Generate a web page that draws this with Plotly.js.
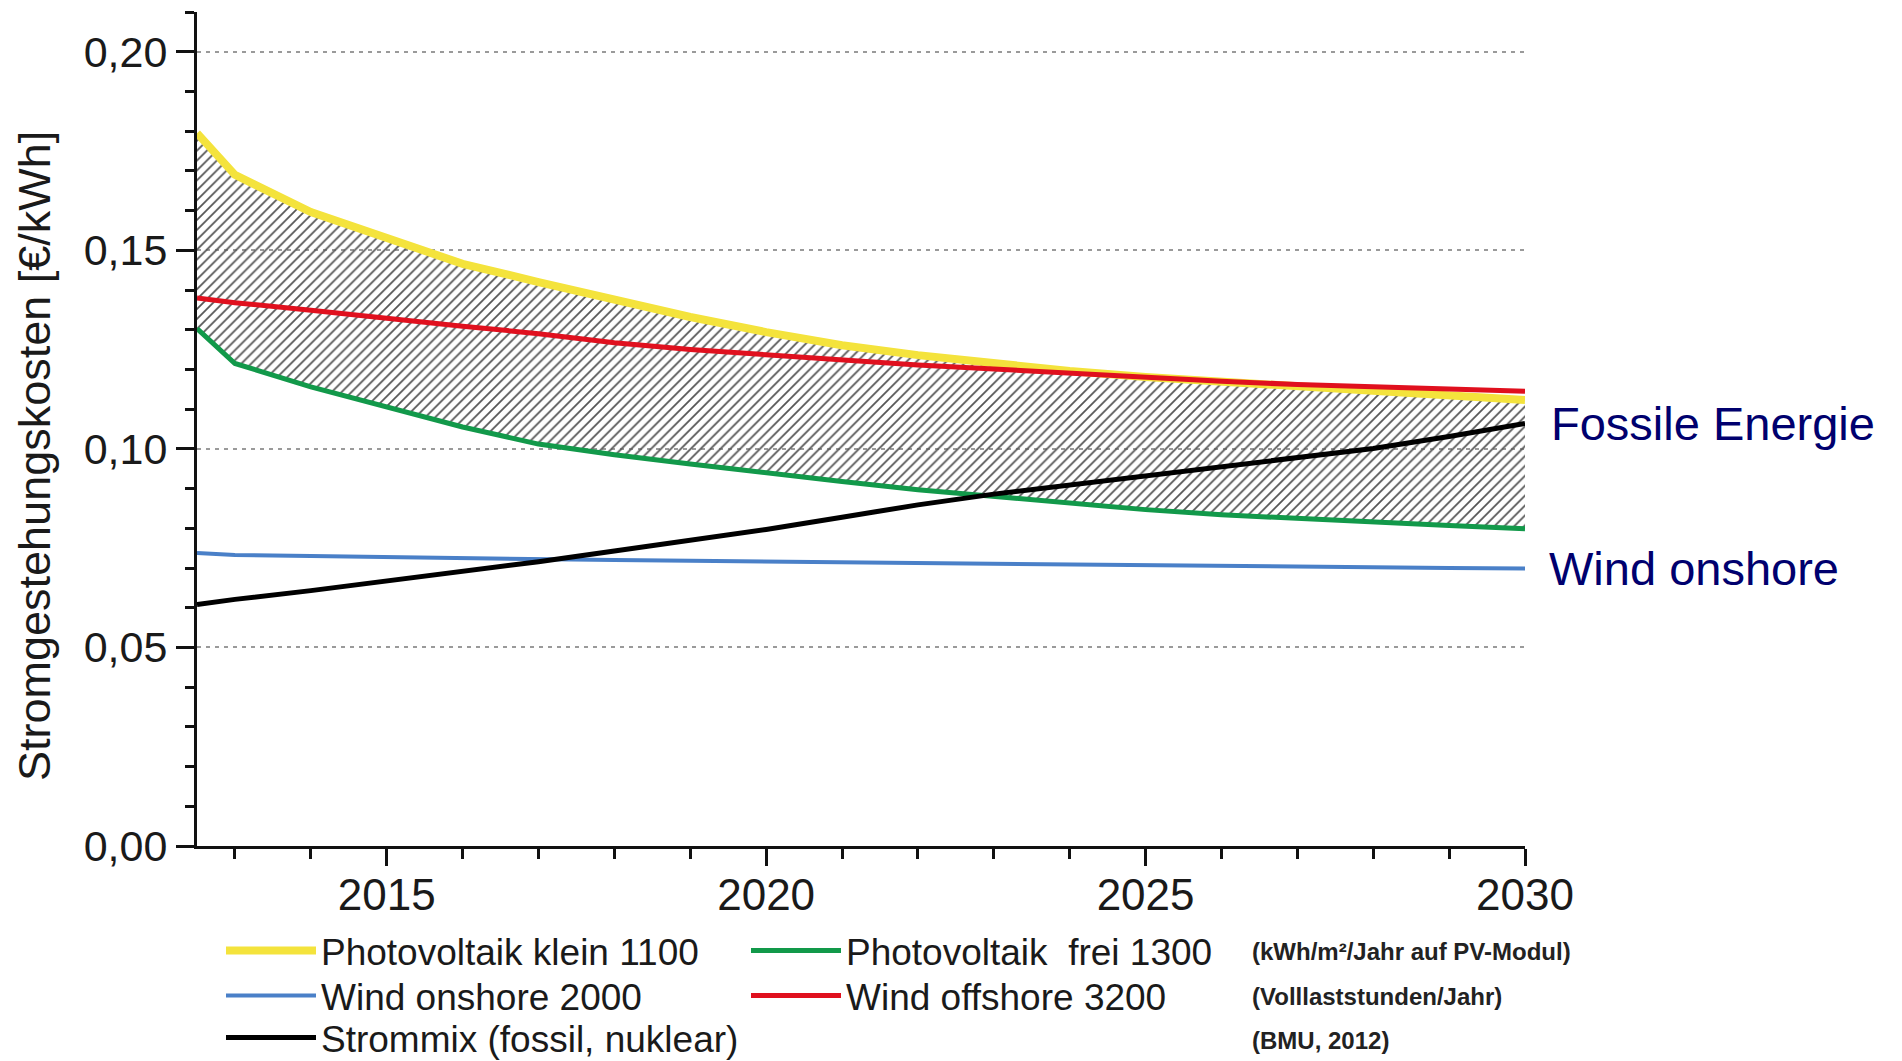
<!DOCTYPE html>
<html>
<head>
<meta charset="utf-8">
<script src="https://cdn.plot.ly/plotly-3.0.1.min.js"></script>
<style>html,body{margin:0;padding:0;background:#fff;}#chart{width:1902px;height:1061px;}</style>
</head>
<body>
<div id="chart"></div>
<script>
// Years (axis starts at mid-2012)
const years = [2012.5, 2013, 2014, 2015, 2016, 2017, 2018, 2019, 2020, 2021, 2022, 2023, 2024, 2025, 2026, 2027, 2028, 2029, 2030];
// Stromgestehungskosten in €/kWh
const pvKlein1100   = [0.1795, 0.1690, 0.1596, 0.1529, 0.1466, 0.1420, 0.1375, 0.1332, 0.1294, 0.1261, 0.1236, 0.1215, 0.1196, 0.1181, 0.1169, 0.1154, 0.1144, 0.1133, 0.1123];
const pvFrei1300    = [0.1303, 0.1215, 0.1156, 0.1105, 0.1055, 0.1012, 0.0985, 0.0962, 0.0939, 0.0918, 0.0897, 0.0880, 0.0864, 0.0847, 0.0834, 0.0824, 0.0816, 0.0807, 0.0799];
const windOn2000    = [0.0738, 0.0733, 0.0730, 0.0727, 0.0724, 0.0722, 0.0720, 0.0718, 0.0716, 0.0714, 0.0712, 0.0710, 0.0709, 0.0708, 0.0706, 0.0704, 0.0702, 0.0700, 0.0699];
const windOff3200   = [0.1380, 0.1368, 0.1349, 0.1328, 0.1309, 0.1290, 0.1267, 0.1250, 0.1236, 0.1223, 0.1211, 0.1201, 0.1190, 0.1179, 0.1170, 0.1162, 0.1156, 0.1150, 0.1145];
const strommix      = [0.0608, 0.0621, 0.0643, 0.0667, 0.0691, 0.0716, 0.0743, 0.0770, 0.0797, 0.0828, 0.0859, 0.0886, 0.0909, 0.0931, 0.0953, 0.0976, 0.1001, 0.1031, 0.1064];

const seriesNames = ["Photovoltaik klein 1100", "Photovoltaik  frei 1300", "Wind onshore 2000", "Wind offshore 3200", "Strommix (fossil, nuklear)"];
const noteTexts = ["(kWh/m²/Jahr auf PV-Modul)", "(Volllaststunden/Jahr)", "(BMU, 2012)"];
const xTickVals = [2015, 2020, 2025, 2030];
const yTitle = 'Stromgestehungskosten [€/kWh]';

const FONT = '"Liberation Sans", Arial, Helvetica, sans-serif';

const traces = [
  // hatched band between PV klein (top) and PV frei (bottom)
  {x: years, y: pvKlein1100, mode: 'lines', line: {width: 0, color: 'rgba(0,0,0,0)'}, showlegend: false, hoverinfo: 'skip'},
  {x: years, y: pvFrei1300, mode: 'lines', line: {width: 0, color: 'rgba(0,0,0,0)'}, fill: 'tonexty',
   fillcolor: 'rgba(0,0,0,0)',
   fillpattern: {shape: '/', fgcolor: '#555', bgcolor: 'rgba(255,255,255,0)', size: 7, solidity: 0.25},
   showlegend: false, hoverinfo: 'skip'},
  {x: years, y: windOn2000, name: seriesNames[2], mode: 'lines', line: {color: '#4a80c8', width: 4}, legend: 'legend3'},
  {x: years, y: pvFrei1300, name: seriesNames[1], mode: 'lines', line: {color: '#12994a', width: 5}, legend: 'legend2'},
  {x: years, y: strommix, name: seriesNames[4], mode: 'lines', line: {color: '#000000', width: 5}, legend: 'legend5'},
  {x: years, y: pvKlein1100, name: seriesNames[0], mode: 'lines', line: {color: '#f4e33c', width: 8}, legend: 'legend'},
  {x: years, y: windOff3200, name: seriesNames[3], mode: 'lines', line: {color: '#e0101e', width: 5}, legend: 'legend4'}
];

const L = 197, R = 1525, T = 12, B = 846;
const pw = R - L, ph = B - T;
const px = v => (v - L) / pw;
const py = v => (B - v) / ph;

function legendAt(xPix, yPix) {
  return {x: px(xPix), y: py(yPix), xanchor: 'left', yanchor: 'middle', bgcolor: 'rgba(0,0,0,0)',
          borderwidth: 0, font: {family: FONT, size: 37, color: '#1a1a1a'}, itemwidth: 90, tracegroupgap: 0};
}

const noteFont = {family: '"Liberation Sans Narrow", ' + FONT, size: 24, color: '#222'};

const layout = {
  width: 1902, height: 1061,
  margin: {l: L, r: 1902 - R, t: T, b: 1061 - B, pad: 0, autoexpand: false},
  paper_bgcolor: '#fff', plot_bgcolor: '#fff',
  separators: ',.',
  font: {family: FONT, color: '#1a1a1a'},
  showlegend: true,
  xaxis: {
    range: [2012.5, 2030], tickmode: 'array', tickvals: xTickVals, ticktext: xTickVals.map(String),
    ticks: 'outside', ticklen: 17, tickwidth: 3, tickcolor: '#111', automargin: false,
    showline: true, linewidth: 3, linecolor: '#111', showgrid: false, zeroline: false,
    tickfont: {family: FONT, size: 44, color: '#1a1a1a'}, ticklabelstandoff: -9,
    minor: {dtick: 1, tick0: 2013, ticks: 'outside', ticklen: 10, tickwidth: 3, tickcolor: '#111', showgrid: false}
  },
  yaxis: {
    range: [0, 0.21], tick0: 0, dtick: 0.05, tickformat: '.2f', automargin: false,
    ticks: 'outside', ticklen: 18, tickwidth: 3, tickcolor: '#111',
    showline: true, linewidth: 3, linecolor: '#111', zeroline: false,
    showgrid: true, gridcolor: '#9a9a9a', gridwidth: 2, griddash: '4px,5px',
    tickfont: {family: FONT, size: 43, color: '#1a1a1a'}, ticklabelstandoff: 0,
    minor: {dtick: 0.01, tick0: 0, ticks: 'outside', ticklen: 9, tickwidth: 3, tickcolor: '#111', showgrid: false}
  },
  legend:  legendAt(221, 951),
  legend2: legendAt(746, 951),
  legend3: legendAt(221, 996),
  legend4: legendAt(746, 996),
  legend5: legendAt(221, 1038),
  annotations: [
    {xref: 'paper', yref: 'paper', x: px(34), y: py(456), xanchor: 'center', yanchor: 'middle', textangle: -90,
     text: yTitle, showarrow: false, font: {family: FONT, size: 45, color: '#1a1a1a'}},
    {xref: 'x', yref: 'y', x: years[years.length - 1], y: strommix[strommix.length - 1], xanchor: 'left', yanchor: 'middle',
     xshift: 24, text: 'Fossile Energie', showarrow: false, font: {family: FONT, size: 47, color: '#00006e'}},
    {xref: 'x', yref: 'y', x: years[years.length - 1], y: windOn2000[windOn2000.length - 1], xanchor: 'left', yanchor: 'middle',
     xshift: 22, text: 'Wind onshore', showarrow: false, font: {family: FONT, size: 47, color: '#00006e'}},
    {xref: 'paper', yref: 'paper', x: px(1250), y: py(951), xanchor: 'left', yanchor: 'middle', text: '<b>' + noteTexts[0] + '</b>',
     showarrow: false, font: noteFont},
    {xref: 'paper', yref: 'paper', x: px(1250), y: py(996), xanchor: 'left', yanchor: 'middle', text: '<b>' + noteTexts[1] + '</b>',
     showarrow: false, font: noteFont},
    {xref: 'paper', yref: 'paper', x: px(1250), y: py(1040), xanchor: 'left', yanchor: 'middle', text: '<b>' + noteTexts[2] + '</b>',
     showarrow: false, font: noteFont}
  ]
};

Plotly.newPlot('chart', traces, layout, {staticPlot: true, displayModeBar: false});
</script>
</body>
</html>
